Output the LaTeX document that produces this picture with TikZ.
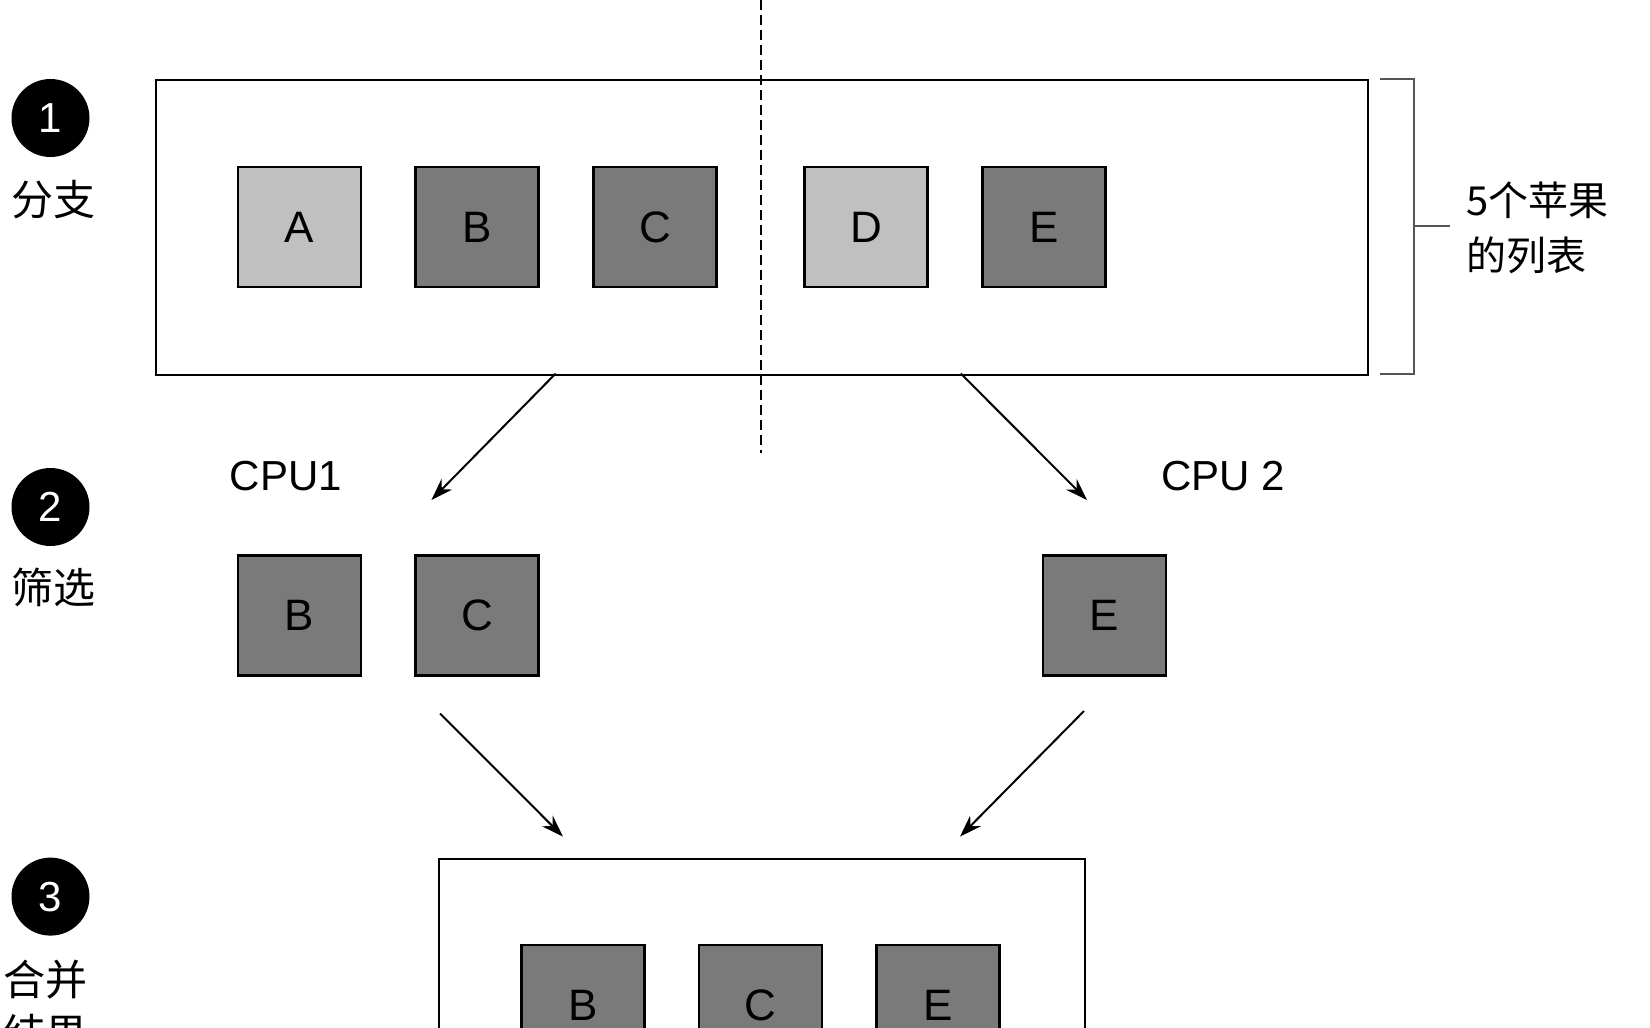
\documentclass[tikz,border=0pt]{standalone}
\usepackage{fontspec}
\setmainfont{Liberation Sans}
\newfontfamily\cjk{Noto Sans CJK SC}
\usetikzlibrary{arrows.meta}
\definecolor{lightapple}{HTML}{C0C0C0}
\definecolor{darkapple}{HTML}{7A7A7A}
\definecolor{bracketgray}{HTML}{555555}
\tikzset{
  apple/.style={draw=black, line width=2.5pt, minimum width=123pt, minimum height=120pt, inner sep=0pt,
    font=\fontsize{44}{50}\selectfont},
  lightbox/.style={apple, fill=lightapple},
  darkbox/.style={apple, fill=darkapple},
  stepnum/.style={circle, fill=black, minimum size=78pt, inner sep=0pt, text=white, font=\fontsize{42}{48}\selectfont},
  steplabel/.style={font=\cjk\fontsize{42}{48}\selectfont, inner sep=0pt, align=left},
  cpulabel/.style={font=\fontsize{42}{48}\selectfont, inner sep=0pt},
  flow/.style={line width=2pt, -{Stealth[length=22pt,width=15pt]}},
  frame/.style={draw=black, line width=2pt, inner sep=0pt}
}
\begin{document}
\begin{tikzpicture}[x=1pt,y=-1pt]
\clip (0,0) rectangle (1650,1028);
\fill[white] (0,0) rectangle (1650,1028);

% top list frame
\node[frame, minimum width=1212pt, minimum height=295pt, anchor=north west] (list) at (154.7,79) {};
% dashed divider
\coordinate (dtop) at (760.8,0);
\coordinate (dbot) at (760.8,452.5);
\draw[line width=2pt, dash pattern=on 10pt off 5pt] (dtop) -- (dbot);

% row 1
\node[lightbox] (a1) at (299.5,227) {A};
\node[darkbox]  (b1) at (477,227) {B};
\node[darkbox]  (c1) at (655,227) {C};
\node[lightbox] (d1) at (866,227) {D};
\node[darkbox]  (e1) at (1044,227) {E};

% bracket
\coordinate (br1) at (1380,79);
\coordinate (br2) at (1414,79);
\coordinate (br3) at (1414,373.6);
\coordinate (br4) at (1380,373.6);
\coordinate (brm) at (1414,226);
\coordinate (brt) at (1450,226);
\draw[bracketgray, line width=2pt] (br1) -- (br2) -- (br3) -- (br4);
\draw[bracketgray, line width=2pt] (brm) -- (brt);
\node[steplabel, anchor=west, font=\cjk\fontsize{40}{55}\selectfont] (lbl) at (1466,228) {5个苹果\\的列表};

% step markers
\node[stepnum] (s1) at (50.5,118) {1};
\node[steplabel] (t1) at (54,200) {分支};
\node[stepnum] (s2) at (50.5,507) {2};
\node[steplabel] (t2) at (54,587) {筛选};
\node[stepnum] (s3) at (50.5,896.6) {3};
\node[steplabel, anchor=north west, font=\cjk\fontsize{42}{54}\selectfont] (t3) at (3,960) {合并\\结果};

% cpu labels
\node[cpulabel] (cpu1) at (286,476) {CPU1};
\node[cpulabel] (cpu2) at (1223,476) {CPU 2};

% arrows from list
\coordinate (l1s) at (555.6,373.6);
\coordinate (l1e) at (431.4,500);
\coordinate (l2s) at (960.8,373.6);
\coordinate (l2e) at (1087,500);
\draw[flow] (l1s) -- (l1e);
\draw[flow] (l2s) -- (l2e);

% row 2
\node[darkbox] (b2) at (299.5,615.6) {B};
\node[darkbox] (c2) at (477,615.6) {C};
\node[darkbox] (e2) at (1104.5,615.6) {E};

% arrows to merge
\coordinate (m1s) at (440,713.5);
\coordinate (m1e) at (563,836.6);
\coordinate (m2s) at (1084,711);
\coordinate (m2e) at (960,836.6);
\draw[flow] (m1s) -- (m1e);
\draw[flow] (m2s) -- (m2e);

% result frame
\node[frame, minimum width=646pt, minimum height=260pt, anchor=north west] (result) at (437.8,857.6) {};
\node[darkbox] (b3) at (583,1005) {B};
\node[darkbox] (c3) at (760.5,1005) {C};
\node[darkbox] (e3) at (938,1005) {E};
\end{tikzpicture}
\end{document}
